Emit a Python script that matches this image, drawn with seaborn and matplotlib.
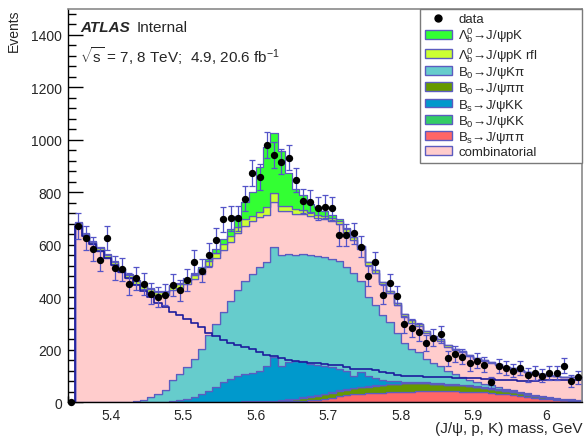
import numpy as np
import pandas as pd
import matplotlib
matplotlib.use("Agg")
import matplotlib.pyplot as plt
from matplotlib.ticker import MultipleLocator, FuncFormatter
from matplotlib.patches import Patch
from matplotlib.lines import Line2D
import seaborn as sns

sns.set_style("ticks")
plt.rcParams["font.family"] = ["Liberation Sans", "DejaVu Sans"]
plt.rcParams["mathtext.fontset"] = "custom"
plt.rcParams["mathtext.rm"] = "Liberation Sans"
plt.rcParams["mathtext.it"] = "Liberation Sans:italic"
plt.rcParams["mathtext.bf"] = "Liberation Sans:bold"

# 10 MeV bins between 5.34 and 6.05 GeV
mass_edges = list(np.linspace(5.34, 6.05, 72))
mass_centres = 0.5 * (np.array(mass_edges[:-1]) + np.array(mass_edges[1:]))

data_counts = [0, 671, 624, 583, 543, 626, 511, 506, 451, 471, 451, 413, 400, 409, 448,
               426, 467, 534, 500, 562, 617, 697, 700, 700, 776, 872, 857, 981, 942, 917,
               932, 847, 766, 764, 738, 745, 738, 636, 636, 643, 592, 481, 532, 409, 453,
               405, 296, 282, 267, 225, 245, 258, 167, 184, 173, 148, 158, 143, 75, 137,
               130, 120, 130, 103, 111, 101, 111, 111, 139, 79, 94]
data_errors = [0, 48, 46, 45, 44, 45, 44, 44, 42, 43, 42, 40, 39, 40, 42, 41, 42, 45, 44,
               46, 47, 48, 48, 48, 49, 50, 50, 49, 49, 49, 49, 47, 45, 45, 44, 44, 44, 41,
               41, 41, 40, 38, 39, 36, 37, 36, 33, 33, 33, 31, 32, 32, 29, 30, 29, 28, 28,
               27, 22, 27, 27, 26, 27, 25, 26, 25, 26, 26, 27, 23, 24]

bs_pipi = [0] * 29 + [1, 2, 3, 5, 6, 8, 12, 16, 21, 25, 29, 31, 33, 35, 36, 37, 38, 39, 40,
                      41, 41, 41, 41, 41, 41, 40, 40, 38, 37, 35, 32, 29, 26, 22, 19, 15,
                      13, 11, 8, 6, 5, 4]
b0_pipi = [0] * 27 + [1, 2, 3, 5, 7, 10, 13, 16, 17, 20, 21, 22, 23, 25, 25, 26, 28, 30,
                      31, 32, 32, 31, 30, 29, 27, 25, 24, 23, 21, 19, 17, 16, 15, 14, 13,
                      11, 9, 7, 5, 3, 3, 2, 2, 1]
b0_kk = [0] * 22 + [1, 1, 2, 2, 2, 3, 3, 3, 3, 3, 3, 3, 3, 3, 3, 3, 2, 2, 2, 2, 2, 2, 2,
                    1, 1, 1, 1] + [0] * 22
bs_kk = [0] * 14 + [3, 6, 12, 19, 30, 41, 57, 76, 87, 100, 105, 110, 118, 135, 166, 132,
                    142, 145, 137, 123, 115, 107, 94, 81, 71, 47, 56, 41, 28, 18, 11, 9,
                    6, 5, 4, 5, 4, 4, 4, 3, 3, 3, 3, 3, 3, 3, 2, 2, 2, 2, 2, 2, 2, 1, 1,
                    1, 1]
b0_kpi = [0] * 9 + [2, 6, 18, 30, 45, 82, 99, 123, 146, 173, 213, 241, 267, 297, 327, 355,
                    376, 395, 396, 419, 421, 414, 402, 411, 415, 413, 414, 414, 411, 395,
                    391, 346, 299, 279, 249, 225, 186, 147, 126, 113, 89, 74, 66, 47, 38,
                    31, 20, 15, 12, 9, 7, 5, 4, 4, 3, 3, 3, 3, 3, 3, 3, 3]
combinatorial = [0, 672, 632, 602, 576, 549, 523, 497, 472, 448, 425, 400, 378, 362, 343,
                 330, 315, 303, 287, 264, 250, 237, 226, 216, 210, 203, 190, 178, 174, 167,
                 161, 157, 152, 150, 148, 146, 143, 140, 135, 126, 124, 124, 122, 116, 110,
                 104, 100, 99, 98, 97, 96, 95, 94, 93, 92, 91, 90, 89, 87, 85, 83, 82, 81,
                 81, 81, 82, 82, 83, 84, 84, 85]
lb_pk_rfl = [0, 9, 9, 9, 10, 10, 11, 11, 12, 12, 13, 13, 13, 14, 14, 15, 16, 17, 18, 19,
             20, 21, 22, 24, 25, 19, 19, 31, 32, 19, 19, 19, 14, 13, 12, 12, 13, 13, 10,
             10, 10, 10, 10, 10, 10, 10, 10, 9, 8, 8, 7, 6, 5, 4, 4, 3, 3, 2, 2, 2, 1, 1,
             1, 1, 1, 1, 1, 1, 1, 1, 1]
lb_pk = [0, 6] + [4] * 12 + [5, 5, 6, 7, 8, 10, 14, 19, 27, 40, 64, 90, 172, 230, 229,
                             210, 127, 77, 57, 31, 29, 19, 12, 6, 3, 2, 1] + [0] * 30

# legend order (top of the stack first)
labels = [r"$\Lambda_{\mathrm{b}}^{0}$→J/ψpK",
          r"$\Lambda_{\mathrm{b}}^{0}$→J/ψpK rfl",
          r"B$_{0}$→J/ψKπ",
          r"B$_{0}$→J/ψππ",
          r"B$_{\mathrm{s}}$→J/ψKK",
          r"B$_{0}$→J/ψKK",
          r"B$_{\mathrm{s}}$→J/ψππ",
          "combinatorial"]
values = [lb_pk, lb_pk_rfl, b0_kpi, b0_pipi, bs_kk, b0_kk, bs_pipi, combinatorial]
colors = ["#33ff33", "#ccff33", "#66cccc", "#669900", "#0099cc", "#33cc66", "#ff6666",
          "#ffcccc"]
palette = dict(zip(labels, colors))

# stacking order, first level drawn on top
stack_order = [labels[0], labels[1], labels[7], labels[2], labels[4], labels[5],
               labels[3], labels[6]]

frames = []
for lab, vals in zip(labels, values):
    frames.append(pd.DataFrame({"mass": mass_centres, "events": vals, "component": lab}))
df = pd.concat(frames, ignore_index=True)

fig = plt.figure(figsize=(5.87, 4.39), dpi=100)
ax = fig.add_axes([0.115, 0.082, 0.8765, 0.896])

sns.histplot(data=df, x="mass", weights="events", hue="component",
             hue_order=stack_order, palette=palette, multiple="stack",
             bins=mass_edges, element="step", alpha=1, edgecolor="#5c5cc0",
             linewidth=0.9, legend=False, ax=ax)

# combinatorial shape on its own
sns.histplot(x=mass_centres, weights=combinatorial, bins=mass_edges, element="step",
             fill=False, color="#1c1c9c", linewidth=1.2, ax=ax)

ax.errorbar(mass_centres, data_counts, yerr=data_errors, fmt="none", ecolor="#5454c8",
            elinewidth=0.9, capsize=2.2, capthick=0.9, zorder=5)
sns.scatterplot(x=mass_centres, y=data_counts, color="black", s=28, edgecolor="black",
                linewidth=0, zorder=6, ax=ax, clip_on=False)

ax.set_xlim(5.34, 6.05)
ax.set_ylim(0, 1500)
ax.xaxis.set_major_locator(MultipleLocator(0.1))
ax.xaxis.set_minor_locator(MultipleLocator(0.02))
ax.xaxis.set_major_formatter(FuncFormatter(lambda v, p: f"{v:g}"))
ax.yaxis.set_major_locator(MultipleLocator(200))
ax.yaxis.set_minor_locator(MultipleLocator(40))
ax.tick_params(which="both", direction="in", top=False, right=False, labelsize=10,
               width=1, color="black")
ax.tick_params(axis="x", which="major", length=8.5, pad=4)
ax.tick_params(axis="x", which="minor", length=4.2)
ax.tick_params(axis="y", which="major", length=11, pad=4)
ax.tick_params(axis="y", which="minor", length=5.5)

for side in ("left", "bottom"):
    ax.spines[side].set_color("black")
    ax.spines[side].set_linewidth(1.0)
for side in ("top", "right"):
    ax.spines[side].set_color("#8a8a8a")
    ax.spines[side].set_linewidth(1.2)

ax.set_xlabel("(J/ψ, p, K) mass, GeV", loc="right", fontsize=11, labelpad=-0.5)
ax.set_ylabel("Events", loc="top", fontsize=10, labelpad=7)

ax.text(0.024, 0.944, "ATLAS", transform=ax.transAxes, fontsize=11,
        fontweight="bold", fontstyle="italic", va="baseline")
ax.text(0.135, 0.944, "Internal", transform=ax.transAxes, fontsize=11, va="baseline")
ax.text(0.024, 0.864, r"$\sqrt{\mathrm{s}}$ = 7, 8 TeV;  4.9, 20.6 fb$^{\mathrm{-1}}$",
        transform=ax.transAxes, fontsize=11, va="baseline")

handles = [Line2D([], [], marker="o", color="black", linestyle="none", markersize=5)]
for lab, col in zip(labels, colors):
    handles.append(Patch(facecolor=col, edgecolor="#5c5cc0", linewidth=1.0))
leg = ax.legend(handles, ["data"] + labels, loc="upper left",
                bbox_to_anchor=(0.685, 0.0, 0.315, 1.0), mode="expand",
                frameon=True, fancybox=False, edgecolor="#7a7a7a", fontsize=9.5,
                handlelength=2.1, handleheight=0.65, labelspacing=0.03,
                borderpad=0.35, borderaxespad=0, handletextpad=0.45)
leg.get_frame().set_linewidth(1.0)
leg.get_frame().set_alpha(1)

fig.savefig("out.png", dpi=100)
